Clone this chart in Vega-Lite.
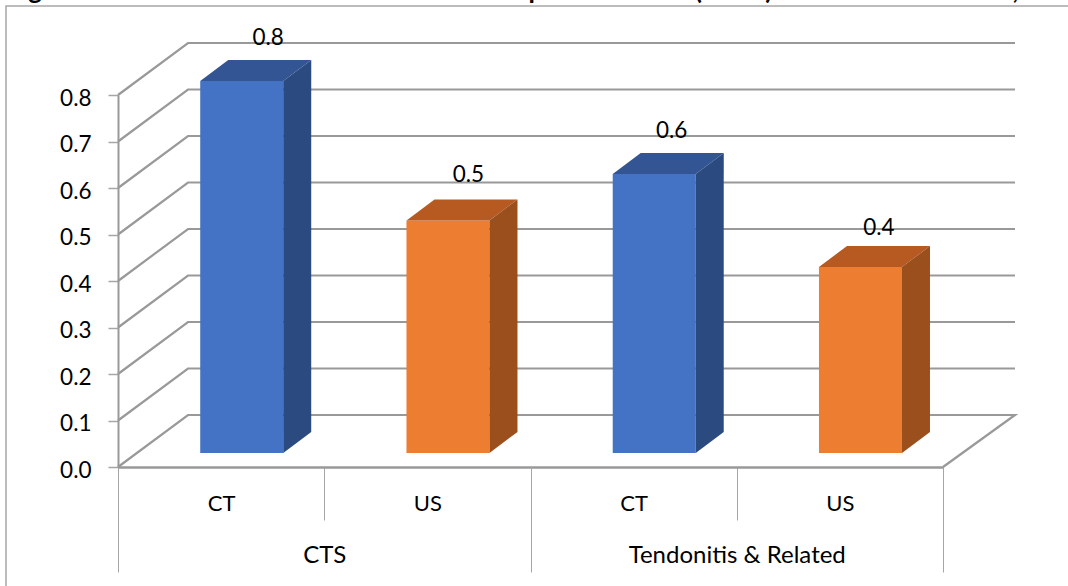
{
"$schema":"https://vega.github.io/schema/vega-lite/v6.json",
"width":1100,"height":620,
"autosize":{"type":"none"},
"padding":{"left":6,"top":6,"right":0,"bottom":0},
"background":"white",
"view":{"stroke":"#a6a6a6","strokeWidth":1.5,"fill":"white"},
"config":{"font":"Lato"},
"title":{"text":"Figure\u00a0\u00a0\u00a0\u00a0\u00a0\u00a0\u00a0\u00a0\u00a0\u00a0\u00a0\u00a0\u00a0\u00a0\u00a0\u00a0\u00a0\u00a0\u00a0\u00a0\u00a0\u00a0\u00a0\u00a0\u00a0\u00a0\u00a0\u00a0\u00a0\u00a0\u00a0\u00a0\u00a0\u00a0\u00a0\u00a0\u00a0\u00a0\u00a0\u00a0\u00a0\u00a0\u00a0\u00a0\u00a0\u00a0\u00a0\u00a0\u00a0\u00a0\u00a0\u00a0\u00a0\u00a0\u00a0\u00a0\u00a0\u00a0\u00a0\u00a0\u00a0\u00a0\u00a0\u00a0\u00a0\u00a0\u00a0\u00a0\u00a0\u00a0\u00a0p\u00a0\u00a0\u00a0\u00a0\u00a0\u00a0\u00a0\u00a0\u00a0\u00a0\u00a0\u00a0\u00a0\u00a0\u00a0\u00a0\u00a0\u00a0\u00a0\u00a0\u00a0\u00a0\u00a0\u00a0(\u00a0\u00a0\u00a0\u00a0\u00a0\u00a0\u00a0\u00a0\u00a0\u00a0)\u00a0\u00a0\u00a0\u00a0\u00a0\u00a0\u00a0\u00a0\u00a0\u00a0\u00a0\u00a0\u00a0\u00a0\u00a0\u00a0\u00a0\u00a0\u00a0\u00a0\u00a0\u00a0\u00a0\u00a0\u00a0\u00a0\u00a0\u00a0\u00a0\u00a0\u00a0\u00a0\u00a0\u00a0\u00a0\u00a0\u00a0\u00a0,","anchor":"start","frame":"group","dx":1,"offset":0,"dy":19,"baseline":"alphabetic","fontSize":26,"fontWeight":"bold","font":"Lato","color":"black"},
"datasets":{
"bars":[
{"group":"CTS","modality":"CT","cat":"CTS CT","value":0.8},
{"group":"CTS","modality":"US","cat":"CTS US","value":0.5},
{"group":"Tendonitis & Related","modality":"CT","cat":"Tendonitis CT","value":0.6},
{"group":"Tendonitis & Related","modality":"US","cat":"Tendonitis US","value":0.4}],
"ticks":[{"tick":0.1},{"tick":0.2},{"tick":0.3},{"tick":0.4},{"tick":0.5},{"tick":0.6},{"tick":0.7},{"tick":0.8}]
},
"layer":[
{"layer":[
{"data":{"name":"ticks"},
 "mark":{"type":"point","shape":"M0,0L70,-52L897,-52","filled":false,"size":4,"stroke":"#999999","strokeWidth":2.2,"opacity":1},
 "encoding":{
 "x":{"datum":"CTS CT","bandPosition":0,"type":"nominal","scale":{"domain":["CTS CT","CTS US","Tendonitis CT","Tendonitis US"],"range":[112,937],"paddingInner":0,"paddingOuter":0},
   "axis":{"title":null,"orient":"bottom","offset":-159,"tickBand":"extent","labelExpr":"split(datum.value,' ')[1]","labelAngle":0,"domainColor":"#999999","domainWidth":2.5,"tickColor":"#a6a6a6","tickWidth":1,"tickSize":53,"labelPadding":-17,"labelBaseline":"middle","labelFontSize":22,"labelFont":"Lato","labelColor":"black","grid":false}},
 "y":{"field":"tick","type":"quantitative","scale":{"domain":[0,0.8],"range":[461,89],"nice":false,"zero":true},
   "axis":{"title":null,"values":[0,0.1,0.2,0.3,0.4,0.5,0.6,0.7,0.8],"format":".1f","offset":-112,"grid":false,"domainColor":"#999999","domainWidth":2,"tickColor":"#a6a6a6","tickWidth":1.5,"tickSize":10,"labelPadding":17,"labelOffset":3,"labelFontSize":22.5,"labelFont":"Lato","labelColor":"black"}}
 }},
{"data":{"values":[{"tick":0}]},
 "mark":{"type":"point","shape":"M0,0L70,-52L897,-52L825,0","filled":false,"size":4,"stroke":"#999999","strokeWidth":2.2,"opacity":1},
 "encoding":{
 "x":{"datum":"CTS CT","bandPosition":0,"type":"nominal"},
 "y":{"field":"tick","type":"quantitative"}
 }},
{"data":{"name":"bars"},
 "mark":{"type":"bar","size":83,"xOffset":20.6,"yOffset":-14},
 "encoding":{
 "x":{"field":"cat","type":"nominal","sort":null},
 "y":{"field":"value","type":"quantitative"},
 "color":{"field":"modality","type":"nominal","legend":null,"scale":{"domain":["CT","US"],"range":["#4472c4","#ed7d31"]}}
 }},
{"data":{"name":"bars"},
 "mark":{"type":"point","shape":"M-20.9,-14L7.1,-35L90.1,-35L62.1,-14Z","filled":true,"size":4,"opacity":1,"strokeWidth":0},
 "encoding":{
 "x":{"field":"cat","type":"nominal","sort":null},
 "y":{"field":"value","type":"quantitative"},
 "fill":{"field":"modality","type":"nominal","legend":null,"scale":{"domain":["CT","US"],"range":["#335593","#b65a22"]}}
 }},
{"data":{"name":"bars"},
 "mark":{"type":"point","filled":true,"size":4,"opacity":1,"strokeWidth":0},
 "encoding":{
 "x":{"field":"cat","type":"nominal","sort":null},
 "y":{"field":"value","type":"quantitative"},
 "shape":{"field":"cat","type":"nominal","legend":null,"scale":{"domain":["CTS CT","CTS US","Tendonitis CT","Tendonitis US"],"range":["M62.1,-14L90.1,-35L90.1,337L62.1,358Z","M62.1,-14L90.1,-35L90.1,197.5L62.1,218.5Z","M62.1,-14L90.1,-35L90.1,244L62.1,265Z","M62.1,-14L90.1,-35L90.1,151L62.1,172Z"]}},
 "fill":{"field":"modality","type":"nominal","legend":null,"scale":{"domain":["CT","US"],"range":["#2a4a80","#9a4f1c"]}}
 }},
{"data":{"name":"bars"},"transform":[{"filter":"datum.cat==='CTS CT'"}],
 "mark":{"type":"text","dx":47,"dy":-57,"fontSize":22.5,"font":"Lato","color":"black"},
 "encoding":{"x":{"field":"cat","type":"nominal","sort":null},"y":{"field":"value","type":"quantitative"},"text":{"field":"value","type":"quantitative","format":".1f"}}},
{"data":{"name":"bars"},"transform":[{"filter":"datum.cat==='CTS US'"}],
 "mark":{"type":"text","dx":41,"dy":-60,"fontSize":22.5,"font":"Lato","color":"black"},
 "encoding":{"x":{"field":"cat","type":"nominal","sort":null},"y":{"field":"value","type":"quantitative"},"text":{"field":"value","type":"quantitative","format":".1f"}}},
{"data":{"name":"bars"},"transform":[{"filter":"datum.cat==='Tendonitis CT'"}],
 "mark":{"type":"text","dx":38,"dy":-57,"fontSize":22.5,"font":"Lato","color":"black"},
 "encoding":{"x":{"field":"cat","type":"nominal","sort":null},"y":{"field":"value","type":"quantitative"},"text":{"field":"value","type":"quantitative","format":".1f"}}},
{"data":{"name":"bars"},"transform":[{"filter":"datum.cat==='Tendonitis US'"}],
 "mark":{"type":"text","dx":39,"dy":-53,"fontSize":22.5,"font":"Lato","color":"black"},
 "encoding":{"x":{"field":"cat","type":"nominal","sort":null},"y":{"field":"value","type":"quantitative"},"text":{"field":"value","type":"quantitative","format":".1f"}}}
],
"resolve":{"scale":{"fill":"independent"}}
},
{"data":{"name":"bars"},
 "mark":{"type":"tick","opacity":0},
 "encoding":{
 "x":{"field":"group","type":"nominal","sort":null,"scale":{"domain":["CTS","Tendonitis & Related"],"range":[112,937],"paddingInner":0,"paddingOuter":0},
   "axis":{"title":null,"orient":"bottom","offset":-159,"tickBand":"extent","labelAngle":0,"domain":false,"tickColor":"#a6a6a6","tickWidth":1,"tickSize":105,"labelPadding":-17,"labelBaseline":"middle","labelFontSize":24,"labelLimit":400,"labelFont":"Lato","labelColor":"black","grid":false}}
 }}
],
"resolve":{"scale":{"x":"independent"},"axis":{"x":"independent"}}
}
